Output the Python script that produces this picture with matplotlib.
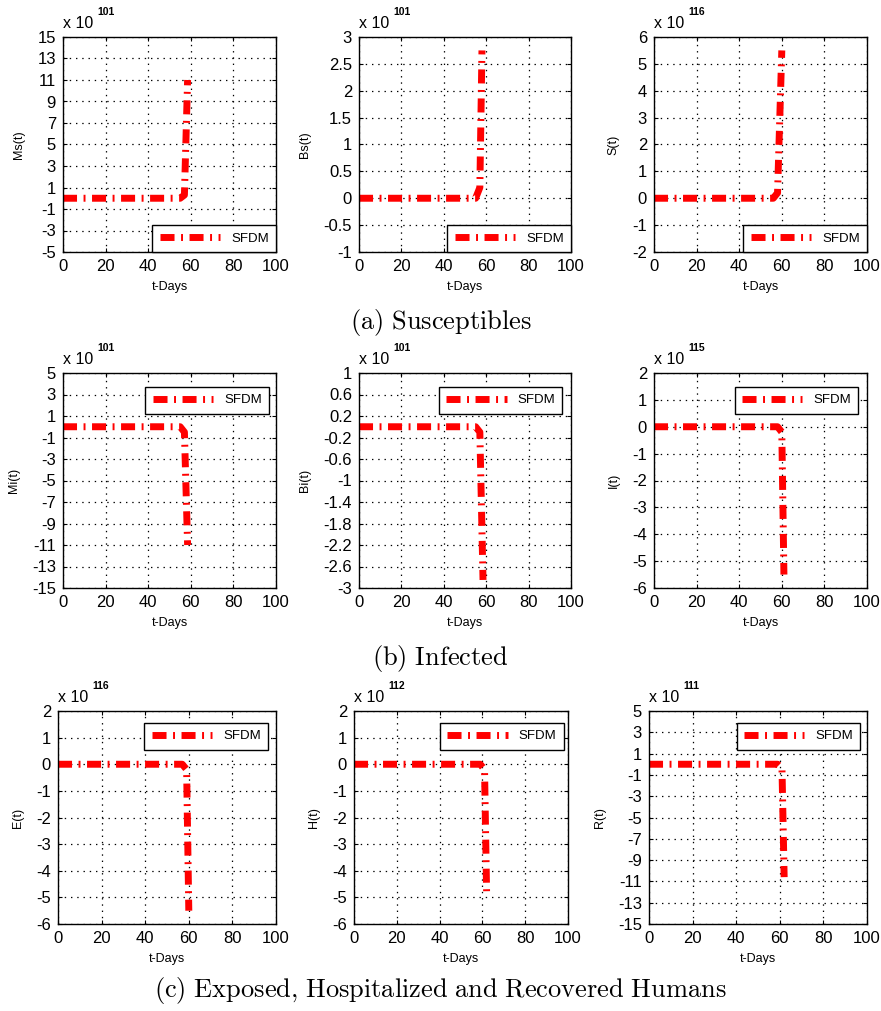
import matplotlib
matplotlib.use("Agg")
import matplotlib.pyplot as plt
import matplotlib.transforms as mtransforms
import numpy as np

plt.rcParams['font.family'] = ['Liberation Sans', 'DejaVu Sans']
plt.rcParams['mathtext.fontset'] = 'cm'
plt.rcParams['lines.scale_dashes'] = False

# ---------------- data (values in units of 10^exponent) ----------------
t_Ms = [0, 55, 57, 58.5]
Ms = [0, 0, 0.3, 11.0]
t_Bs = [0, 55, 57, 58]
Bs = [0, 0, 0.2, 2.75]
t_S = [0, 56, 58, 60]
S = [0, 0, 0.2, 5.5]
t_Mi = [0, 55, 57, 58.5]
Mi = [0, 0, -0.5, -11.0]
t_Bi = [0, 55, 57, 58.5]
Bi = [0, 0, -0.1, -2.85]
t_I = [0, 58, 60, 61]
I = [0, 0, -0.2, -5.5]
t_E = [0, 57, 59, 60]
E = [0, 0, -0.2, -5.5]
t_H = [0, 59, 61, 62]
H = [0, 0, -0.2, -5.0]
t_R = [0, 59, 61, 62]
R = [0, 0, -0.4, -10.6]

exponents = [101, 101, 116, 101, 101, 115, 116, 112, 111]
ylabels = ['Ms(t)', 'Bs(t)', 'S(t)', 'Mi(t)', 'Bi(t)', 'I(t)', 'E(t)', 'H(t)', 'R(t)']
yticks_list = [
    [-5, -3, -1, 1, 3, 5, 7, 9, 11, 13, 15],
    [-1, -0.5, 0, 0.5, 1, 1.5, 2, 2.5, 3],
    [-2, -1, 0, 1, 2, 3, 4, 5, 6],
    [-15, -13, -11, -9, -7, -5, -3, -1, 1, 3, 5],
    [-3, -2.6, -2.2, -1.8, -1.4, -1, -0.6, -0.2, 0.2, 0.6, 1],
    [-6, -5, -4, -3, -2, -1, 0, 1, 2],
    [-6, -5, -4, -3, -2, -1, 0, 1, 2],
    [-6, -5, -4, -3, -2, -1, 0, 1, 2],
    [-15, -13, -11, -9, -7, -5, -3, -1, 1, 3, 5],
]
xticks = [0, 20, 40, 60, 80, 100]
series_t = [t_Ms, t_Bs, t_S, t_Mi, t_Bi, t_I, t_E, t_H, t_R]
series_y = [Ms, Bs, S, Mi, Bi, I, E, H, R]
legend_label = 'SFDM'
captions = [r'$\mathrm{(a)\ Susceptibles}$', r'$\mathrm{(b)\ Infected}$',
            r'$\mathrm{(c)\ Exposed{,}\ Hospitalized\ and\ Recovered\ Humans}$']

# ---------------- layout (pixels) ----------------
W, Hh = 881, 1011
fig = plt.figure(figsize=(W / 100, Hh / 100), dpi=100)
boxes = [
    (63, 276, 37, 252), (359, 571, 37, 252), (654, 867, 37, 252),
    (63, 276, 373, 588), (359, 571, 373, 588), (654, 867, 373, 588),
    (58, 276, 711, 924), (354, 568, 711, 924), (649, 867, 711, 924),
]
leg_anchor = [None, None, None,
              (0.967, 0.935), (0.958, 0.935), (0.958, 0.935),
              (0.963, 0.944), (0.98, 0.944), (0.968, 0.944)]
caption_y = [322, 658, 990]

dash = (0, (10.1, 4.7, 1.4, 4.7))
red = '#ff0000'

for i in range(9):
    L, Rr, T, B = boxes[i]
    ax = fig.add_axes([L / W, 1 - B / Hh, (Rr - L) / W, (B - T) / Hh])
    yt = yticks_list[i]
    ax.plot(series_t[i], series_y[i], color=red, lw=5.0, linestyle=dash,
            dash_capstyle='butt', solid_capstyle='butt', label=legend_label)
    ax.set_xlim(0, 100)
    ax.set_ylim(yt[0], yt[-1])
    ax.set_xticks(xticks)
    ax.set_yticks(yt)
    ax.set_yticklabels(['%g' % v for v in yt])
    ax.tick_params(direction='in', length=3, width=0.8, labelsize=12,
                   top=True, right=True, pad=5)
    ax.grid(True, color='black', linestyle=(0, (1, 3.5)), linewidth=0.9)
    for sp in ax.spines.values():
        sp.set_linewidth(1.0)
        sp.set_color('black')
    ax.set_xlabel('t-Days', fontsize=9, labelpad=5)
    ax.set_ylabel(ylabels[i], fontsize=9, labelpad=9)
    # multiplier label
    tr = mtransforms.offset_copy(ax.transAxes, fig=fig, x=0, y=6.5, units='points')
    ax.text(0.0, 1.0, 'x 10', transform=tr, fontsize=11.5, ha='left', va='baseline')
    tr2 = mtransforms.offset_copy(ax.transAxes, fig=fig, x=25, y=16, units='points')
    ax.text(0.0, 1.0, str(exponents[i]), transform=tr2, fontsize=7.5,
            fontweight='bold', ha='left', va='baseline')
    if i < 3:
        leg = ax.legend(loc='lower right', bbox_to_anchor=(1.0, 0.0),
                        borderaxespad=0, fontsize=9.5, handlelength=4.6,
                        handletextpad=0.8, borderpad=0.55, fancybox=False,
                        framealpha=1, edgecolor='black')
    else:
        leg = ax.legend(loc='upper right', bbox_to_anchor=leg_anchor[i],
                        borderaxespad=0, fontsize=9.5, handlelength=4.6,
                        handletextpad=0.8, borderpad=0.55, fancybox=False,
                        framealpha=1, edgecolor='black')
    leg.get_frame().set_linewidth(1.0)

for k, cy in enumerate(caption_y):
    fig.text(0.5, 1 - cy / Hh, captions[k], ha='center', va='center', fontsize=19)

fig.savefig('out.png', dpi=100, facecolor='white')
